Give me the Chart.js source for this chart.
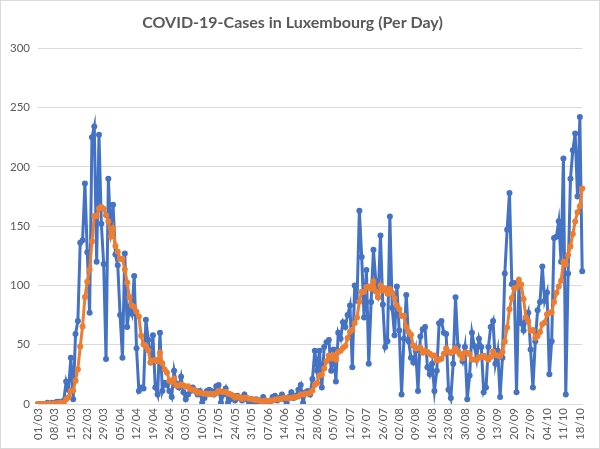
<!DOCTYPE html>
<html>
<head>
<meta charset="utf-8">
<script src="https://cdn.jsdelivr.net/npm/chart.js@4.4.1/dist/chart.umd.min.js"></script>
<style>
html,body{margin:0;padding:0;background:#fff;}
#wrap{width:600px;height:449px;position:relative;}
</style>
</head>
<body>
<div id="wrap"><canvas id="c" width="600" height="449"></canvas></div>
<script>
// Daily new cases (blue)
const dailyCases = [
0,0,0,0,1,0,1,0,2,2,1,3,19,12,39,4,59,70,136,138,
186,128,77,225,234,120,227,152,118,38,190,142,168,126,117,75,39,127,65,82,
76,108,47,11,14,13,71,54,35,58,14,8,60,11,18,16,11,6,28,17,
14,23,10,4,8,11,14,11,8,11,1,5,11,12,11,8,15,16,1,8,
13,1,4,7,3,7,5,3,8,4,1,3,1,4,2,1,6,3,1,2,
6,7,3,5,8,4,1,6,10,5,7,12,16,1,10,11,8,21,45,28,
45,14,48,52,54,28,46,19,60,55,69,65,75,83,31,100,87,163,124,73,
113,34,86,130,104,90,142,84,48,53,158,81,58,99,62,8,55,92,53,39,
35,45,11,57,63,65,31,25,34,11,28,68,70,60,59,12,5,34,90,49,
42,36,48,4,24,60,49,38,55,48,10,14,48,65,70,34,45,6,39,110,
147,178,101,102,10,99,68,62,70,77,46,14,53,79,86,116,87,94,25,53,
140,141,154,120,207,8,110,190,214,228,175,242,112
];
// 7-day average (orange)
const weeklyAverage = [
0,0,0,0,0.2,0.2,0.3,0.3,0.6,0.9,1,1.3,4,5.6,11.1,11.4,19.6,29.4,48.4,65.4,
90.3,103,113.4,137.1,158.6,158.3,165,166.1,164.7,159.1,154.1,141,147.9,133.4,128.4,122.3,122.4,113.4,102.4,90.1,
83,81.7,77.7,73.7,57.6,50.1,48.6,45.4,35,36.6,37,36.1,42.9,34.3,29.1,26.4,19.7,18.6,21.4,15.3,
15.7,16.4,15.6,14.6,14.9,12.4,12,11.6,9.4,9.6,9.1,8.7,8.7,8.4,8.4,8.4,9,11.1,10.6,10.1,
10.3,8.9,8.3,7.1,5.3,6.1,5.7,4.3,5.3,5.3,4.4,4.4,3.6,3.4,3.3,2.3,2.6,2.9,2.6,2.7,
3,3.7,4,3.9,4.6,5,4.9,4.9,5.3,5.6,5.9,6.4,8.1,8.1,8.7,8.9,9.3,11.3,16,17.7,
24,24.6,29.9,36.1,40.9,38.4,41,37.3,43.9,44.9,47.3,48.9,55.6,60.9,62.6,68.3,72.9,86.3,94.7,94.4,
98.7,99.1,97.1,103.3,94.9,90,99.9,95.7,97.7,93,97,93.7,89.1,83,79.9,74.1,74.4,65,61,58.3,
49.1,46.7,47.1,47.4,43.3,45,43.9,42.4,40.9,40.9,36.7,37.4,38.1,42.3,47.1,44,43.1,44,47.1,44.1,
41.6,38.3,43.4,43.3,41.9,37.6,37.6,37,39.7,39.7,40.6,39.1,37.4,39.7,44.3,41.3,40.9,40.3,43.9,52.7,
64.4,79.9,89.4,97.6,98.1,104.7,100.7,88.6,73.1,69.7,61.7,62.3,55.7,57.3,60.7,67.3,68.7,75.6,77.1,77.1,
85.9,93.7,99.1,103.9,120,117.6,125.7,132.9,143.3,153.9,161.7,166.7,181.6
];
// Tick labels shown on the x axis (every 7th day)
const tickLabels = ["01/03","08/03","15/03","22/03","29/03","05/04","12/04","19/04","26/04","03/05",
"10/05","17/05","24/05","31/05","07/06","14/06","21/06","28/06","05/07","12/07","19/07","26/07",
"02/08","09/08","16/08","23/08","30/08","06/09","13/09","20/09","27/09","04/10","11/10","18/10"];
const yTicks = [0,50,100,150,200,250,300];

// Daily categories: calendar days from 01/03 onward
const monthLengths = {3:31,4:30,5:31,6:30,7:31,8:31,9:30,10:31};
const categories = [];
(function(){
  let d = 1, m = 3;
  for (let i = 0; i < dailyCases.length; i++) {
    categories.push(String(d).padStart(2,'0') + '/' + String(m).padStart(2,'0'));
    d++; if (d > monthLengths[m]) { d = 1; m++; }
  }
})();

const borderPlugin = {
  id: 'outerBorder',
  afterDraw(chart) {
    const ctx = chart.ctx;
    ctx.save();
    ctx.strokeStyle = '#d9d9d9';
    ctx.lineWidth = 1;
    ctx.strokeRect(0.5, 0.5, chart.width - 1, chart.height - 1);
    ctx.restore();
  }
};

new Chart(document.getElementById('c'), {
  type: 'line',
  data: {
    labels: categories,
    datasets: [
      {
        label: 'Cases',
        data: dailyCases,
        borderColor: '#4472C4',
        backgroundColor: '#4472C4',
        borderWidth: 3,
        pointRadius: 3,
        pointBorderWidth: 0,
        pointBackgroundColor: '#4472C4',
        tension: 0,
        order: 2
      },
      {
        label: '7-day average',
        data: weeklyAverage,
        borderColor: '#ED7D31',
        backgroundColor: '#ED7D31',
        borderWidth: 3,
        pointRadius: 3,
        pointBorderWidth: 0,
        pointBackgroundColor: '#ED7D31',
        tension: 0,
        order: 1
      }
    ]
  },
  options: {
    responsive: false,
    animation: false,
    devicePixelRatio: 1,
    layout: { padding: { left: 0, right: 15, top: 0, bottom: 0 } },
    plugins: {
      legend: { display: false },
      tooltip: { enabled: false },
      title: {
        display: true,
        text: 'COVID-19-Cases in Luxembourg (Per Day)',
        color: '#595959',
        font: { family: 'Lato, "Open Sans", sans-serif', size: 16, weight: 'bold' },
        padding: { top: 13, bottom: 16 }
      }
    },
    scales: {
      x: {
        type: 'category',
        offset: false,
        grid: { display: false, drawTicks: false },
        border: { display: true, color: '#d9d9d9', width: 1 },
        ticks: {
          autoSkip: false,
          maxRotation: 90,
          minRotation: 90,
          padding: 4,
          color: '#595959',
          font: { family: 'Lato, "Open Sans", sans-serif', size: 11.5 },
          callback: function(val, idx) {
            const lab = this.getLabelForValue(val);
            return tickLabels.includes(lab) && idx % 7 === 0 ? lab : '';
          }
        },
        afterFit(scale) { scale.height = 45; }
      },
      y: {
        min: 0,
        max: 300,
        afterBuildTicks(scale) { scale.ticks = yTicks.map(v => ({ value: v })); },
        grid: { color: '#d9d9d9', drawTicks: false, lineWidth: 1 },
        border: { display: false },
        ticks: {
          padding: 8,
          color: '#595959',
          font: { family: 'Lato, "Open Sans", sans-serif', size: 11.5 }
        },
        afterFit(scale) { scale.width = 38; }
      }
    }
  },
  plugins: [borderPlugin]
});
</script>
</body>
</html>
